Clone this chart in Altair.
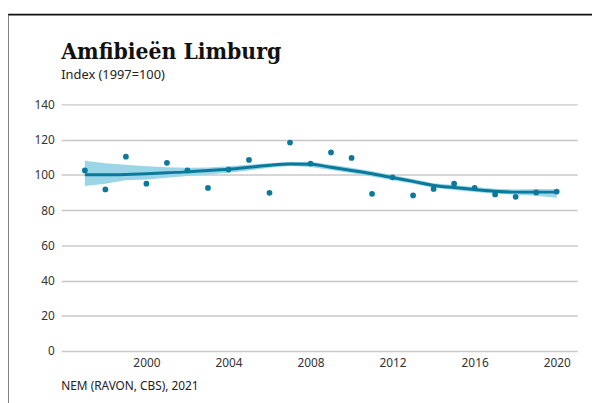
import altair as alt
import pandas as pd

years = list(range(1997, 2021))
index_values = [102.5, 91.7, 110.3, 95.0, 106.8, 102.5, 92.6, 103.0, 108.5, 89.8, 118.3, 106.4,
                112.7, 109.6, 89.2, 98.6, 88.3, 92.0, 95.0, 92.6, 88.9, 87.5, 90.0, 90.5]
trend = [100.1, 100.0, 100.2, 100.6, 101.2, 101.7, 102.5, 103.2, 104.3, 105.5, 106.2, 106.0,
         104.3, 102.5, 100.6, 98.4, 96.3, 94.0, 92.8, 91.7, 90.7, 90.2, 90.2, 90.2]
lower = [93.7, 95.0, 97.0, 97.4, 98.4, 99.3, 100.2, 101.2, 102.5, 104.0, 105.0, 104.5,
         102.8, 101.0, 99.1, 97.0, 94.9, 92.7, 91.4, 90.3, 89.3, 88.7, 88.2, 87.0]
upper = [108.0, 106.6, 105.7, 104.9, 104.3, 104.0, 104.2, 104.9, 105.8, 106.6, 107.3, 107.5,
         105.8, 104.0, 102.1, 99.8, 97.7, 95.3, 94.2, 93.1, 92.1, 91.7, 92.0, 91.8]
x_ticks = [2000, 2004, 2008, 2012, 2016, 2020]
y_ticks = [0, 20, 40, 60, 80, 100, 120, 140]

title_text = "Amfibieën Limburg"
subtitle_text = "Index (1997=100)"
source_text = "NEM (RAVON, CBS), 2021"

df = pd.DataFrame({"jaar": years, "index": index_values, "trend": trend,
                   "lower": lower, "upper": upper})

FONT = "Noto Sans"
TITLE_FONT = "DejaVu Serif Condensed"
LINE = "#0b7a9a"
BAND = "#9bd6e8"

x_scale = alt.Scale(domain=[1995.85, 2021.0], nice=False, zero=False)
y_scale = alt.Scale(domain=[0, 140], nice=False)
x_axis = alt.Axis(values=x_ticks, format="d", title=None, grid=False, domain=False,
                  ticks=False, labelPadding=7, labelFontSize=12, labelColor="#333",
                  labelFont=FONT)
y_axis = alt.Axis(values=y_ticks, title=None, grid=True, gridColor="#c8c8c8", gridWidth=1.5,
                  domain=False, ticks=False, labelPadding=7, labelFontSize=12,
                  labelColor="#333", labelFont=FONT, labelOverlap=False)

base = alt.Chart(df)

band = base.mark_area(color=BAND, opacity=1).encode(
    x=alt.X("jaar:Q", scale=x_scale, axis=x_axis),
    y=alt.Y("lower:Q", scale=y_scale, axis=y_axis),
    y2="upper:Q",
)
line = base.mark_line(color=LINE, strokeWidth=3, interpolate="monotone").encode(
    x=alt.X("jaar:Q", scale=x_scale, axis=x_axis),
    y=alt.Y("trend:Q", scale=y_scale, axis=y_axis))
points = base.mark_circle(color=LINE, size=34, opacity=1).encode(
    x=alt.X("jaar:Q", scale=x_scale, axis=x_axis),
    y=alt.Y("index:Q", scale=y_scale, axis=y_axis))

title = alt.Chart(pd.DataFrame({"t": [title_text]})).mark_text(
    align="left", baseline="alphabetic", font=TITLE_FONT, fontSize=23, fontWeight="bold",
    color="#111").encode(text="t:N", x=alt.value(0), y=alt.value(-46))
sub = alt.Chart(pd.DataFrame({"t": [subtitle_text]})).mark_text(
    align="left", baseline="alphabetic", font=FONT, fontSize=13, color="#222").encode(
    text="t:N", x=alt.value(0), y=alt.value(-26))
src = alt.Chart(pd.DataFrame({"t": [source_text]})).mark_text(
    align="left", baseline="alphabetic", font=FONT, fontSize=12, color="#222").encode(
    text="t:N", x=alt.value(0), y=alt.value(290))

frame_top = alt.Chart(pd.DataFrame({"a": [0]})).mark_rule(color="#111", strokeWidth=2).encode(
    x=alt.value(-54), x2=alt.value(560), y=alt.value(-91))
frame_left = alt.Chart(pd.DataFrame({"a": [0]})).mark_rule(color="#555", strokeWidth=1.5).encode(
    x=alt.value(-54), y=alt.value(-91), y2=alt.value(310))

chart = alt.layer(band, line, points, title, sub, src, frame_top, frame_left).properties(
    width=523, height=250,
    background="white",
    autosize=alt.AutoSizeParams(type="none"),
    padding={"left": 54, "top": 95, "right": 15, "bottom": 50},
).configure_view(strokeWidth=0, stroke="transparent")

chart.save("out.html", embed_options={"renderer": "svg", "actions": False})
